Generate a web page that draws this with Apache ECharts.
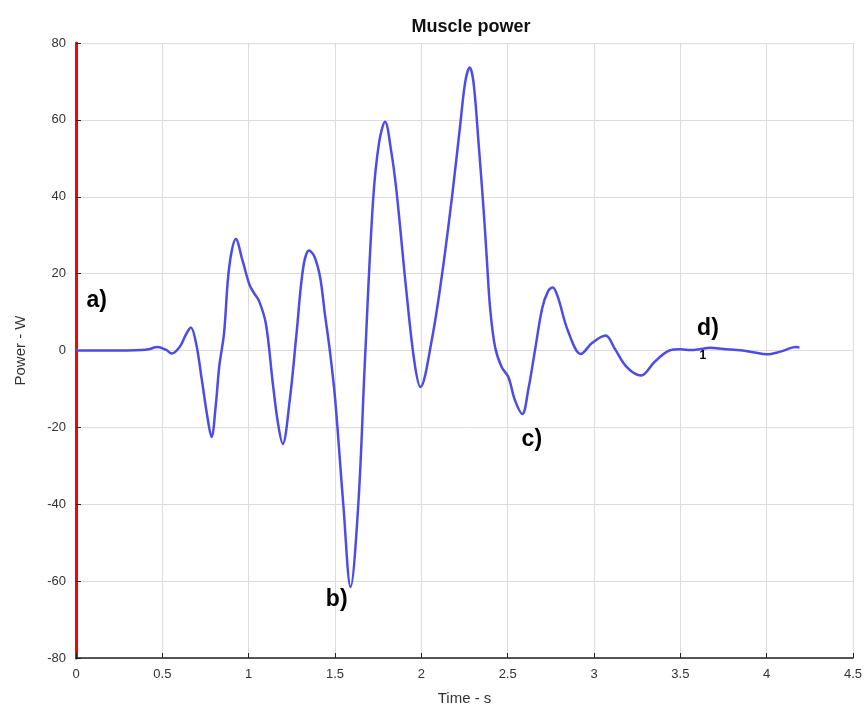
<!DOCTYPE html>
<html>
<head>
<meta charset="utf-8">
<script src="https://cdn.jsdelivr.net/npm/echarts@6/dist/echarts.min.js"></script>
<style>
  html, body { margin: 0; padding: 0; background: #fff; }
  #chart { width: 866px; height: 711px; }
</style>
</head>
<body>
<div id="chart"></div>
<script>
// time (s) and muscle power (W)
const times = [0, 0.1, 0.2, 0.3, 0.38, 0.42, 0.47, 0.52, 0.555, 0.6, 0.635, 0.665, 0.695, 0.73, 0.76, 0.785,
  0.81, 0.83, 0.857, 0.887, 0.926, 0.965, 1.004, 1.03, 1.06, 1.1, 1.14, 1.17, 1.197, 1.238, 1.277, 1.316,
  1.35, 1.38, 1.414, 1.44, 1.47, 1.5, 1.548, 1.59, 1.635, 1.673, 1.72, 1.755, 1.79, 1.825, 1.856, 1.913,
  1.96, 1.995, 2.06, 2.12, 2.177, 2.225, 2.254, 2.28, 2.302, 2.331, 2.36, 2.379, 2.398, 2.427, 2.465, 2.504,
  2.542, 2.585, 2.62, 2.658, 2.7, 2.735, 2.761, 2.79, 2.85, 2.924, 2.99, 3.067, 3.12, 3.19, 3.273, 3.35,
  3.437, 3.5, 3.56, 3.62, 3.67, 3.75, 3.86, 3.93, 4.0, 4.08, 4.17, 4.19];
const power = [0, 0, 0, 0, 0.1, 0.3, 0.9, 0.2, -0.8, 0.9, 4, 6, 2, -8, -17, -22.5,
  -14, -4, 4.3, 21.6, 29, 23.3, 17.2, 15, 12.9, 6.9, -8.6, -19, -24.3, -12.9, 4.3, 21.6,
  26, 24.5, 19, 10, 0, -12.2, -40, -61.5, -40, -3, 38.7, 54, 59.5, 52, 41.5, 15.6,
  -3, -9.5, 2.6, 19.8, 39.7, 58.6, 69.8, 73.6, 69.8, 54.3, 37, 24, 11.2, 0.9, -4.3, -6.9,
  -12.9, -16.5, -10, 0, 11, 15.5, 16.4, 14, 5, -0.9, 2, 3.9, 0.5, -4.3, -6.5, -3,
  0, 0.3, 0.1, 0.4, 0.7, 0.4, 0, -0.5, -1.0, -0.3, 0.9, 0.8];

const yTicks = [-80, -60, -40, -20, 0, 20, 40, 60, 80];
// annotation labels: [time, power, text]
const notes = [[0.12, 13, 'a)'], [1.51, -64.8, 'b)'], [2.64, -23.3, 'c)'], [3.66, 5.7, 'd)']];
const marker = [[3.63, -1.3, '1']];

const lineData = times.map((t, i) => [t, power[i]]);

const labelStyle = (size) => ({
  show: true,
  position: 'inside',
  formatter: p => p.data[2],
  fontFamily: 'Liberation Sans, Arial',
  fontSize: size,
  fontWeight: 'bold',
  color: '#000'
});

const chart = echarts.init(document.getElementById('chart'));
chart.setOption({
  animation: false,
  backgroundColor: '#fff',
  title: {
    text: 'Muscle power',
    left: 466,
    textAlign: 'center',
    top: 13,
    textStyle: { fontFamily: 'Liberation Sans, Arial', fontSize: 18, fontWeight: 'bold', color: '#111' }
  },
  grid: { left: 76, right: 13, top: 43, bottom: 53 },
  xAxis: {
    type: 'value',
    min: 0, max: 4.5, interval: 0.5,
    name: 'Time - s',
    nameLocation: 'middle',
    nameGap: 33,
    nameTextStyle: { fontFamily: 'Liberation Sans, Arial', fontSize: 15, color: '#333' },
    axisLine: { onZero: false, lineStyle: { color: '#222', width: 1.5 } },
    axisTick: { inside: true, length: 5, lineStyle: { color: '#222' } },
    axisLabel: { fontFamily: 'Liberation Sans, Arial', fontSize: 13, color: '#333', margin: 10 },
    splitLine: { show: true, lineStyle: { color: '#dcdcdc', width: 1 } }
  },
  yAxis: {
    type: 'value',
    min: yTicks[0], max: yTicks[yTicks.length - 1], interval: 20,
    name: 'Power - W',
    nameLocation: 'middle',
    nameGap: 48,
    nameTextStyle: { fontFamily: 'Liberation Sans, Arial', fontSize: 15, color: '#333' },
    axisLine: { show: true, onZero: false, lineStyle: { color: '#ff0000', width: 3 } },
    axisTick: { show: true, inside: true, length: 5, lineStyle: { color: '#222' } },
    axisLabel: { fontFamily: 'Liberation Sans, Arial', fontSize: 13, color: '#333', margin: 10 },
    splitLine: { show: true, lineStyle: { color: '#dcdcdc', width: 1 } }
  },
  series: [
    {
      type: 'line',
      data: lineData,
      smooth: 0.35,
      showSymbol: false,
      symbol: 'none',
      lineStyle: { color: '#4c4ce8', width: 2.5 },
      z: 3
    },
    {
      type: 'scatter',
      data: notes.map(n => [n[0], n[1], n[2]]),
      symbolSize: 0,
      itemStyle: { opacity: 1 },
      label: labelStyle(23),
      z: 4
    },
    {
      type: 'scatter',
      data: marker.map(n => [n[0], n[1], n[2]]),
      symbolSize: 0,
      itemStyle: { opacity: 1 },
      label: labelStyle(12),
      z: 4
    }
  ]
});
</script>
</body>
</html>
